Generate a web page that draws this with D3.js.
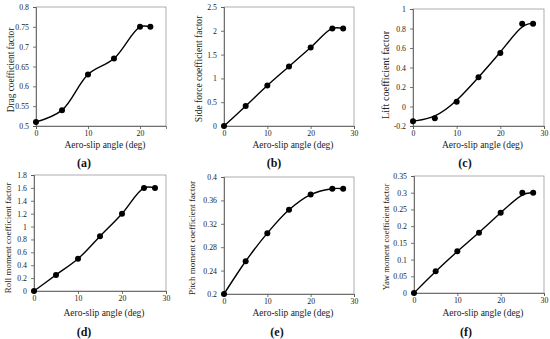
<!DOCTYPE html>
<html><head><meta charset="utf-8">
<script src="https://cdn.jsdelivr.net/npm/d3@7"></script>
<style>body{margin:0;background:#fff}svg{display:block}</style>
</head><body>
<svg id="c" width="550" height="339"></svg>
<script>
const xAngle = [0, 5, 10, 15, 20, 25, 27.5];
const xAngleA = [0, 5, 10, 15, 20, 22];
const dragVals = [0.51, 0.54, 0.63, 0.67, 0.75, 0.75];
const sideVals = [0, 0.42, 0.85, 1.25, 1.65, 2.05, 2.05];
const liftVals = [-0.15, -0.12, 0.05, 0.30, 0.55, 0.85, 0.85];
const rollVals = [0, 0.25, 0.50, 0.85, 1.20, 1.60, 1.60];
const pitchVals = [0.20, 0.256, 0.304, 0.344, 0.370, 0.380, 0.380];
const yawVals = [0, 0.065, 0.125, 0.18, 0.24, 0.30, 0.30];

const xTicksA = [0, 10, 20];
const xTicks = [0, 10, 20, 30];
const yTicksA = [0.5, 0.55, 0.6, 0.65, 0.7, 0.75, 0.8];
const yTicksB = [0, 0.5, 1, 1.5, 2, 2.5];
const yTicksC = [-0.2, 0, 0.2, 0.4, 0.6, 0.8, 1];
const yTicksD = [0, 0.2, 0.4, 0.6, 0.8, 1, 1.2, 1.4, 1.6, 1.8];
const yTicksE = [0.2, 0.24, 0.28, 0.32, 0.36, 0.4];
const yTicksF = [0, 0.05, 0.1, 0.15, 0.2, 0.25, 0.3, 0.35];

const yTitles = ["Drag coefficient factor", "Side force coefficient factor", "Lift  coefficient factor",
  "Roll moment coefficient factor", "Pitch moment coefficient factor", "Yaw moment coefficient factor"];
const subLabels = ["(a)", "(b)", "(c)", "(d)", "(e)", "(f)"];
const xTitle = "Aero-slip angle (deg)";

const panels = [
  {x: xAngleA, y: dragVals, xd: [0, 25], xt: xTicksA, yd: [0.5, 0.8], yt: yTicksA, box: [36, 166, 7, 126], curve: d3.curveCatmullRom, yl: 7, yc: 70, row: 0},
  {x: xAngle, y: sideVals, xd: [0, 30], xt: xTicks, yd: [0, 2.5], yt: yTicksB, box: [224, 354, 7, 126], curve: d3.curveCatmullRom, yl: 195, yc: 69, row: 0},
  {x: xAngle, y: liftVals, xd: [0, 30], xt: xTicks, yd: [-0.2, 1], yt: yTicksC, box: [413, 544, 9, 126], curve: d3.curveBasis, yl: 382, yc: 75, row: 0},
  {x: xAngle, y: rollVals, xd: [0, 30], xt: xTicks, yd: [0, 1.8], yt: yTicksD, box: [34, 166, 175, 291], curve: d3.curveCatmullRom, yl: 4, yc: 238, row: 1},
  {x: xAngle, y: pitchVals, xd: [0, 30], xt: xTicks, yd: [0.2, 0.4], yt: yTicksE, box: [224, 354, 177, 294], curve: d3.curveCatmullRom, yl: 188, yc: 238, row: 1},
  {x: xAngle, y: yawVals, xd: [0, 30], xt: xTicks, yd: [0, 0.35], yt: yTicksF, box: [414, 544, 176, 293], curve: d3.curveBasis, yl: 382, yc: 237, row: 1}
];
const subX = [84, 274, 465, 84, 277, 466];

const svg = d3.select("#c");
const fnt = "'Liberation Serif','Times New Roman',serif";
const fmt = v => String(+v.toFixed(3)).replace("\u2212", "-");

// fit a text element's font size so that its width matches a target
function fit(sel, target, base) {
  const w = sel.node().getComputedTextLength();
  if (w > 0) sel.attr("font-size", Math.min(11, Math.max(7, base * target / w)));
}

panels.forEach((p, i) => {
  const [x0, x1, y0, y1] = p.box;
  const xs = d3.scaleLinear().domain(p.xd).range([x0, x1]);
  const ys = d3.scaleLinear().domain(p.yd).range([y1, y0]);
  const g = svg.append("g");
  g.append("rect").attr("x", x0).attr("y", y0).attr("width", x1 - x0).attr("height", y1 - y0)
    .attr("fill", "none").attr("stroke", "#999").attr("stroke-width", 0.8);
  const ax = g.append("g").attr("transform", `translate(0,${y1})`)
    .call(d3.axisBottom(xs).tickValues(p.xt).tickSize(3).tickFormat(fmt));
  const ay = g.append("g").attr("transform", `translate(${x0},0)`)
    .call(d3.axisLeft(ys).tickValues(p.yt).tickSize(3).tickFormat(fmt));
  [ax, ay].forEach(a => {
    a.select(".domain").attr("stroke", "#555").attr("stroke-width", 0.8);
    a.selectAll(".tick line").attr("stroke", "#555").attr("stroke-width", 0.8);
    a.selectAll("text").attr("font-family", fnt).attr("font-size", 7.8).attr("fill", "#222");
  });
  ax.selectAll("text").attr("dy", "0.5em");
  ay.selectAll("text").attr("dx", "-1");
  const pts = p.x.map((v, k) => [v, p.y[k]]);
  g.append("path").attr("d", d3.line().x(d => xs(d[0])).y(d => ys(d[1])).curve(p.curve)(pts))
    .attr("fill", "none").attr("stroke", "#000").attr("stroke-width", 1.4);
  g.selectAll("circle").data(pts).join("circle")
    .attr("cx", d => xs(d[0])).attr("cy", d => ys(d[1])).attr("r", 3).attr("fill", "#000");
  const xt = g.append("text").attr("x", (x0 + x1) / 2 + 4).attr("y", p.row ? 316 : 148).attr("text-anchor", "middle")
    .attr("font-family", fnt).attr("font-size", 9.8).attr("fill", "#222").text(xTitle);
  fit(xt, 81, 9.8);
  const yt = g.append("text").attr("transform", `translate(${p.yl + 7},${p.yc}) rotate(-90)`).attr("text-anchor", "middle")
    .attr("font-family", fnt).attr("font-size", 9.4).attr("fill", "#222").text(yTitles[i]);
  fit(yt, yTitles[i].length * 3.67, 9.4);
  g.append("text").attr("x", subX[i]).attr("y", p.row ? 336 : 167).attr("text-anchor", "middle")
    .attr("font-family", fnt).attr("font-size", 12).attr("font-weight", "bold").attr("fill", "#111").text(subLabels[i]);
});
</script>
</body></html>
